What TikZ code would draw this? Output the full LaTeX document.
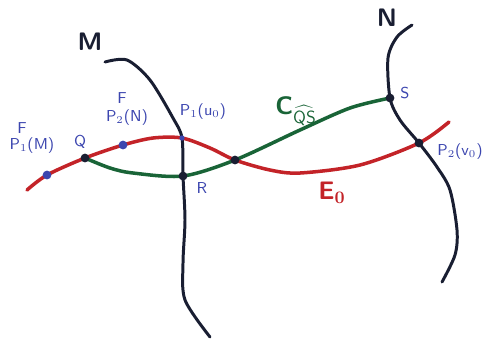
\documentclass[tikz,border=0pt]{standalone}
\usepackage{amsmath}
\definecolor{ink}{RGB}{25,30,50}
\definecolor{redink}{RGB}{195,35,40}
\definecolor{greenink}{RGB}{25,100,55}
\definecolor{blueink}{RGB}{60,70,175}
\tikzset{
  surf/.style  = {draw=ink, line width=1.7pt, line cap=round},
  curva/.style = {line width=2pt, line cap=round},
  punto/.style = {circle, fill=ink, minimum size=5pt, inner sep=0},
  pblu/.style  = {circle, fill=blueink, minimum size=5pt, inner sep=0},
  et/.style    = {font=\sffamily\small, text=blueink, inner sep=1pt},
  big/.style   = {font=\sffamily\bfseries\Large, inner sep=1pt}
}
\begin{document}
\begin{tikzpicture}[x=0.02cm, y=-0.02cm]
  \useasboundingbox (0,0) rectangle (486,346);
  % punti
  \coordinate (Q)  at (85,158);
  \coordinate (R)  at (183,176);
  \coordinate (X)  at (235,160);
  \coordinate (S)  at (390,98);
  \coordinate (U0) at (182,138);
  \coordinate (V0) at (419,143);
  \coordinate (PM) at (47,175);
  \coordinate (PN) at (123,145);
  % superfici M e N
  \draw[surf] plot[smooth] coordinates {(105,62) (127,60) (150,80) (173,118) (U0) (R) (185,220) (183,263) (185,300) (210,337)};
  \draw[surf] plot[smooth] coordinates {(412,25) (397,37) (388,58) (S) (400,120) (V0) (437,167) (450,190) (457,230) (455,255) (442,282)};
  % E_0 e C
  \draw[curva, redink] plot[smooth] coordinates {(27,190) (PM) (Q) (PN) (153,138) (U0) (210,148) (X) (270,170) (300,173) (360,165) (V0) (449,122)};
  \draw[curva, greenink] plot[smooth] coordinates {(Q) (110,168) (133,173) (R) (X) (300,130) (350,108) (S)};
  \foreach \p in {Q,R,X,S,V0} \node[punto] at (\p) {};
  \node[pblu] at (PM) {}; \node[pblu] at (PN) {};
  \node[circle, fill=blueink, minimum size=3pt, inner sep=0] at (U0) {};
  % etichette
  \node[big, text=ink] (M) at (90,42) {M};
  \node[big, text=ink] (N) at (387,18) {N};
  \node[et] (lS)  at (405,93)  {S};
  \node[et] (lV)  at (460,152) {P$_2$(v$_0$)};
  \node[et] (lU)  at (203,112) {P$_1$(u$_0$)};
  \node[et] (lQ)  at (80,142)  {Q};
  \node[et] (lR)  at (202,188) {R};
  \node[et] (lPN) at (127,118) {P$_2$(N)};
  \node[et] (FN)  at (122,98)  {F};
  \node[et] (lPM) at (32,146)  {P$_1$(M)};
  \node[et] (FM)  at (22,128)  {F};
  \node[big, text=greenink] (C)  at (296,111) {C$_{\widehat{\mathsf{QS}}}$};
  \node[big, text=redink]   (E0) at (332,193) {E$_{\mathbf{0}}$};
\end{tikzpicture}
\end{document}
